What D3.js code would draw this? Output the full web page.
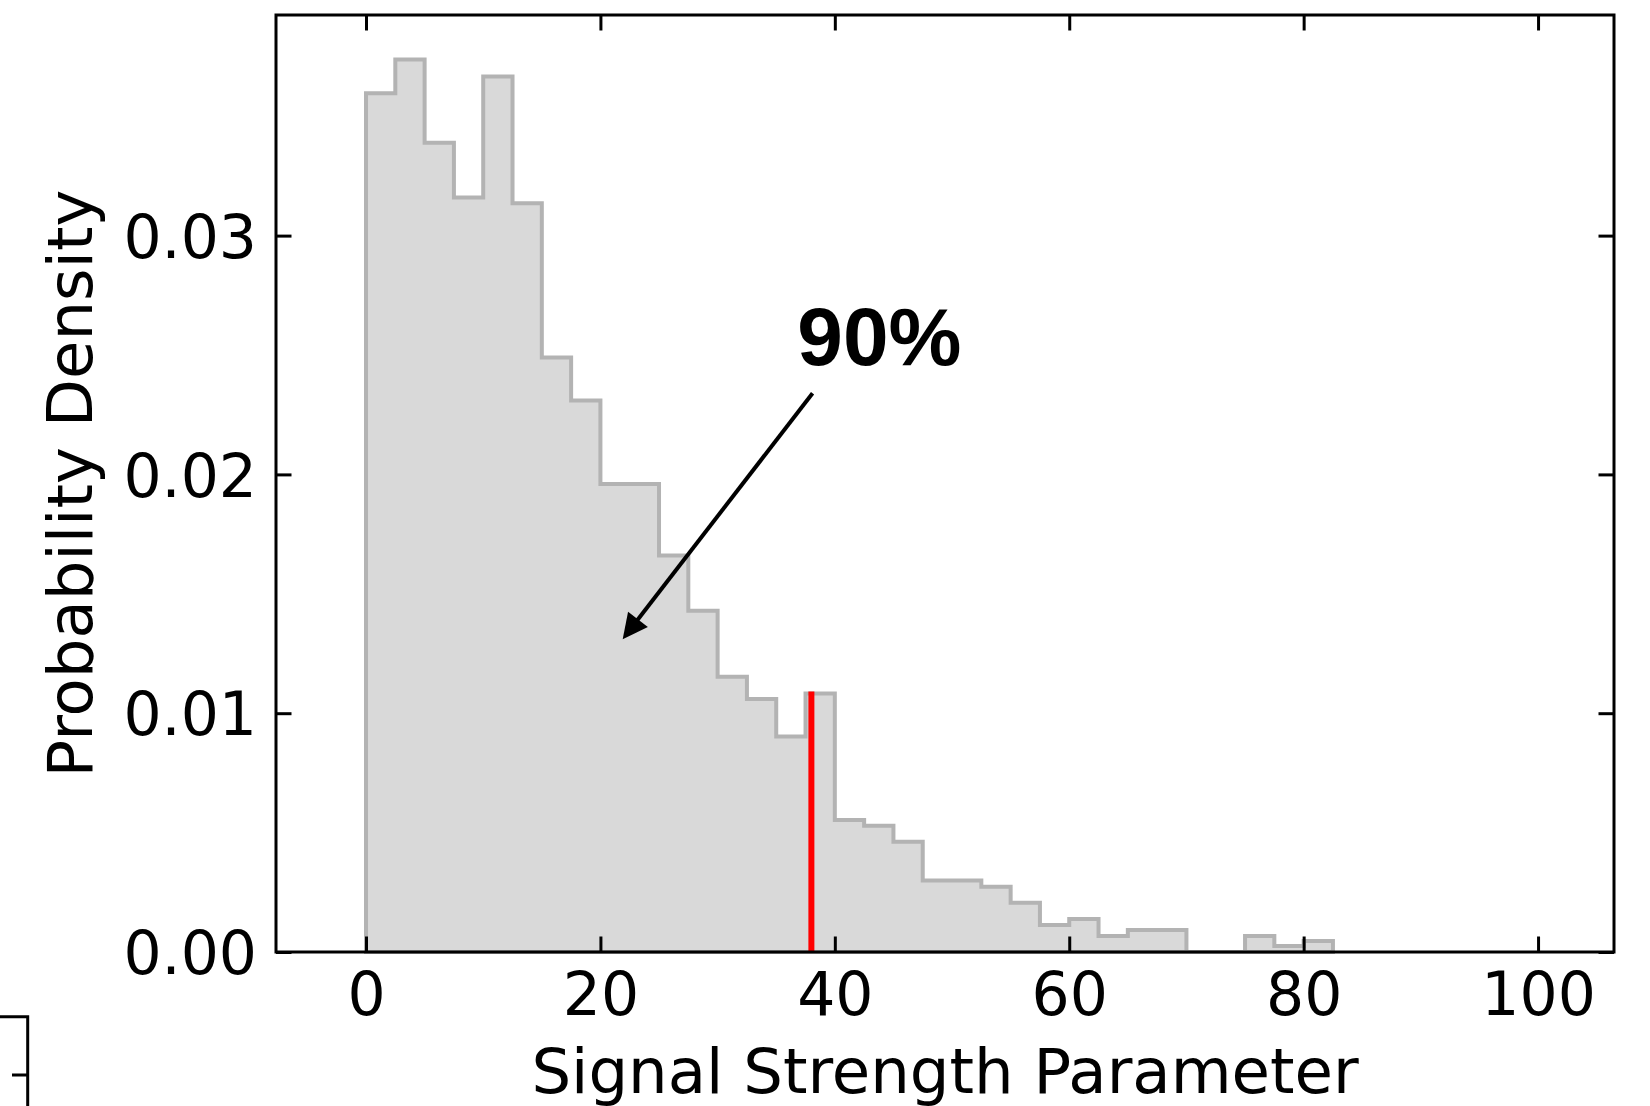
<!DOCTYPE html>
<html>
<head>
<meta charset="utf-8">
<script src="https://cdn.jsdelivr.net/npm/d3@7"></script>
<style>
  html, body { margin: 0; padding: 0; background: #ffffff; }
  svg { display: block; }
</style>
</head>
<body>
<svg id="chart" width="1650" height="1106"></svg>
<script>
// Histogram of the signal strength parameter (density normalised, bin width 2.5)
const binWidth = 2.5;
const binStart = 0;
const densities = [
  0.03596, 0.03737, 0.03389, 0.03160, 0.03666, 0.03135, 0.02490, 0.02309,
  0.01960, 0.01960, 0.01660, 0.01429, 0.01153, 0.01059, 0.00902, 0.01083,
  0.00553, 0.00529, 0.00462, 0.00299, 0.00299, 0.00273, 0.00206, 0.00113,
  0.00138, 0.00067, 0.00092, 0.00092, 0.00000, 0.00000, 0.00067, 0.00025,
  0.00046
];

// 90th percentile marker and its annotation
const percentileValue = 38.0;
const annotationText = "90%";
const arrowTip = [21.9, 0.0131];
const arrowTail = [38.1, 0.0234];
const textAnchor = [43.8, 0.0246];

// Axis ticks and titles
const xTicks = [0, 20, 40, 60, 80, 100];
const yTicks = [0.00, 0.01, 0.02, 0.03];
const xTitle = "Signal Strength Parameter";
const yTitle = "Probability Density";

const svg = d3.select("#chart");
const margin = { left: 276, right: 1614, top: 15, bottom: 952 };

const yMaxData = d3.max(densities);
const x = d3.scaleLinear().domain([-7.68, 106.48]).range([margin.left, margin.right]);
const y = d3.scaleLinear().domain([0, yMaxData * 1.05]).range([margin.bottom, margin.top]);

// Step-filled outline of the histogram
const pts = [[binStart, 0]];
densities.forEach((d, i) => {
  const x0 = binStart + i * binWidth;
  pts.push([x0, d], [x0 + binWidth, d]);
});
pts.push([binStart + densities.length * binWidth, 0]);

const line = d3.line().x(d => x(d[0])).y(d => y(d[1]));
svg.append("path")
  .attr("d", line(pts) + "Z")
  .attr("fill", "#d9d9d9")
  .attr("stroke", "#b3b3b3")
  .attr("stroke-width", 4)
  .attr("stroke-linejoin", "miter");

// Vertical percentile line, up to the height of the bin containing it
const pIdx = Math.floor((percentileValue - binStart) / binWidth);
svg.append("line")
  .attr("x1", x(percentileValue)).attr("x2", x(percentileValue))
  .attr("y1", y(0)).attr("y2", y(densities[pIdx]) - 2)
  .attr("stroke", "#ff0000")
  .attr("stroke-width", 6);

// Annotation arrow
const tx = x(arrowTail[0]), ty = y(arrowTail[1]);
const hx = x(arrowTip[0]), hy = y(arrowTip[1]);
const ang = Math.atan2(hy - ty, hx - tx);
const headLen = 25, headHalf = 12.5;
const bx = hx - headLen * Math.cos(ang), by = hy - headLen * Math.sin(ang);
svg.append("line")
  .attr("x1", tx).attr("y1", ty).attr("x2", bx + 4 * Math.cos(ang)).attr("y2", by + 4 * Math.sin(ang))
  .attr("stroke", "#000").attr("stroke-width", 4);
svg.append("path")
  .attr("d", d3.line()([
    [hx, hy],
    [bx + headHalf * Math.sin(ang), by - headHalf * Math.cos(ang)],
    [bx - headHalf * Math.sin(ang), by + headHalf * Math.cos(ang)]
  ]) + "Z")
  .attr("fill", "#000");

svg.append("text")
  .attr("x", x(textAnchor[0]))
  .attr("y", y(textAnchor[1]))
  .attr("text-anchor", "middle")
  .attr("font-family", "'Liberation Sans', Arial, sans-serif")
  .attr("font-weight", "bold")
  .attr("font-size", 82)
  .attr("fill", "#000")
  .text(annotationText);

// Axes: ticks on all four sides, pointing inward
const tickLen = 15.5;
const fontFam = "'DejaVu Sans', sans-serif";

const gx = svg.append("g")
  .attr("transform", `translate(0,${margin.bottom})`)
  .call(d3.axisBottom(x).tickValues(xTicks).tickSize(-tickLen).tickSizeOuter(0).tickFormat(d3.format("d")));
gx.selectAll("text").attr("dy", null).attr("y", 63);

const gy = svg.append("g")
  .attr("transform", `translate(${margin.left},0)`)
  .call(d3.axisLeft(y).tickValues(yTicks).tickSize(-tickLen).tickSizeOuter(0).tickPadding(19).tickFormat(d3.format(".2f")));
gy.selectAll("text").attr("dy", "0.36em");

const gt = svg.append("g")
  .attr("transform", `translate(0,${margin.top})`)
  .call(d3.axisTop(x).tickValues(xTicks).tickSize(-tickLen).tickSizeOuter(0).tickFormat(""));

const gr = svg.append("g")
  .attr("transform", `translate(${margin.right},0)`)
  .call(d3.axisRight(y).tickValues(yTicks).tickSize(-tickLen).tickSizeOuter(0).tickFormat(""));

[gx, gy, gt, gr].forEach(g => {
  g.select(".domain").remove();
  g.selectAll(".tick line").attr("stroke", "#000").attr("stroke-width", 3);
  g.selectAll("text")
    .attr("font-family", fontFam)
    .attr("font-size", 60)
    .attr("fill", "#000");
});

// Plot frame
svg.append("rect")
  .attr("x", margin.left).attr("y", margin.top)
  .attr("width", margin.right - margin.left)
  .attr("height", margin.bottom - margin.top)
  .attr("fill", "none")
  .attr("stroke", "#000")
  .attr("stroke-width", 3);

// Axis titles
svg.append("text")
  .attr("x", (margin.left + margin.right) / 2)
  .attr("y", 1093)
  .attr("text-anchor", "middle")
  .attr("font-family", fontFam)
  .attr("font-size", 62.5)
  .text(xTitle);

svg.append("text")
  .attr("transform", `translate(92,${(margin.top + margin.bottom) / 2}) rotate(-90)`)
  .attr("text-anchor", "middle")
  .attr("font-family", fontFam)
  .attr("font-size", 62.5)
  .text(yTitle);

// Corner of a neighbouring panel frame, clipped by the page edge
svg.append("path")
  .attr("d", "M0,1016.7 H27.7 V1106 M12,1075 H27.7")
  .attr("fill", "none")
  .attr("stroke", "#000")
  .attr("stroke-width", 3);
</script>
</body>
</html>
